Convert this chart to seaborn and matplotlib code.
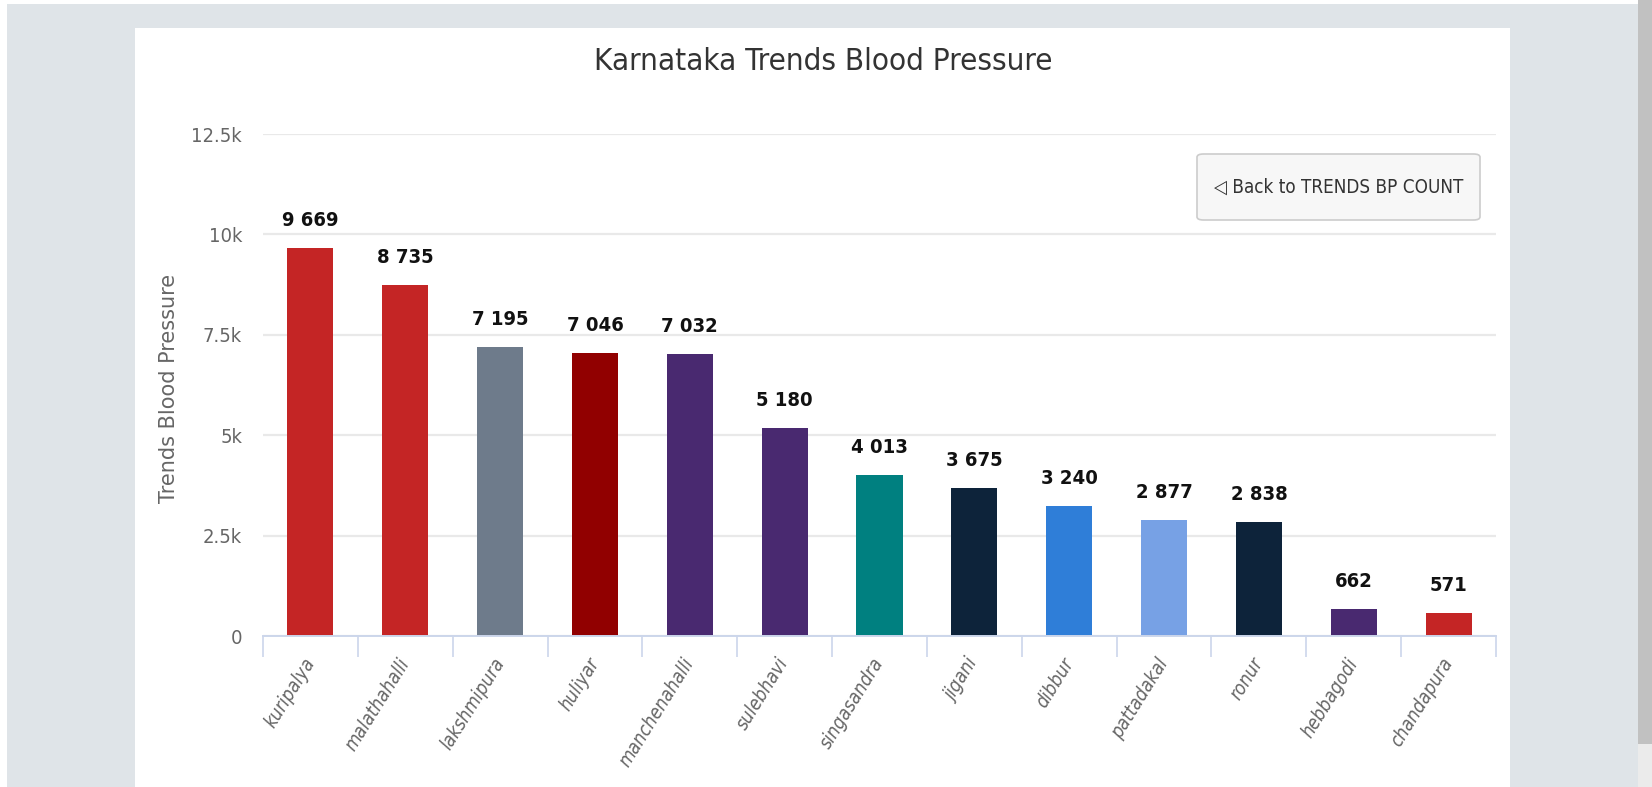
import numpy as np
import pandas as pd
import matplotlib
matplotlib.use("Agg")
import matplotlib.pyplot as plt
from matplotlib.patches import Rectangle, FancyBboxPatch
import seaborn as sns

categories = ["kuripalya", "malathahalli", "lakshmipura", "huliyar", "manchenahalli",
              "sulebhavi", "singasandra", "jigani", "dibbur", "pattadakal", "ronur",
              "hebbagodi", "chandapura"]
values = [9669, 8735, 7195, 7046, 7032, 5180, 4013, 3675, 3240, 2877, 2838, 662, 571]
bar_colors = ["#c42525", "#c42525", "#6e7b8b", "#910000", "#492970", "#492970", "#008080",
              "#0d233a", "#2f7ed8", "#77a1e5", "#0d233a", "#492970", "#c42525"]
y_ticks = [0, 2500, 5000, 7500, 10000, 12500]
y_ticklabels = ["0", "2.5k", "5k", "7.5k", "10k", "12.5k"]
title = "Karnataka Trends Blood Pressure"
y_label = "Trends Blood Pressure"
button_text = "\u25c1 Back to TRENDS BP COUNT"

sns.set_theme(style="white")
plt.rcParams["font.family"] = ["DejaVu Sans"]
plt.rcParams["font.stretch"] = "condensed"

W, H = 1652, 787
fig = plt.figure(figsize=(W / 100, H / 100), dpi=100)
fig.patch.set_facecolor("white")

def fr(x0, y0, x1, y1):
    return (x0 / W, 1 - y1 / H, (x1 - x0) / W, (y1 - y0) / H)

def add_rect(x0, y0, x1, y1, color):
    l, b, w, h = fr(x0, y0, x1, y1)
    fig.add_artist(Rectangle((l, b), w, h, transform=fig.transFigure,
                             facecolor=color, edgecolor="none", zorder=-10))

add_rect(7, 4, W, H, "#dfe4e8")
add_rect(135, 28, 1510, H, "white")
add_rect(1638, 0, W, 744, "#c1c1c1")
add_rect(1638, 744, W, H, "#ebebeb")

l, b, w, h = fr(263, 134, 1496, 636)
ax = fig.add_axes([l, b, w, h])
ax.set_facecolor("none")

df = pd.DataFrame({"cat": categories, "val": values})
sns.barplot(data=df, x="cat", y="val", hue="cat", palette=bar_colors, legend=False,
            width=0.485, saturation=1, ax=ax, edgecolor="none")

ax.set_ylim(0, 12500)
ax.set_xlim(-0.5, len(categories) - 0.5)
ax.set_yticks(y_ticks)
ax.set_yticklabels(y_ticklabels, fontstretch="condensed")
ax.yaxis.grid(True, color="#e9e9e9", linewidth=1.6)
ax.set_axisbelow(True)
for s in ["left", "right", "top"]:
    ax.spines[s].set_visible(False)
ax.spines["bottom"].set_color("#ccd6eb")
ax.spines["bottom"].set_linewidth(1.4)

ax.tick_params(axis="y", length=0, pad=15, labelsize=14.5, labelcolor="#666666")
ax.tick_params(axis="x", which="major", length=0, pad=17)
ax.set_xticks(np.arange(-0.5, len(categories), 1), minor=True)
ax.tick_params(axis="x", which="minor", length=15, width=1.2, color="#ccd6eb", bottom=True)
ax.set_xticks(range(len(categories)))
ax.set_xticklabels(categories, rotation=58, ha="right", va="center",
                   rotation_mode="anchor", fontsize=13.5, color="#666666", style="italic",
                   fontstretch="condensed")

ax.set_xlabel("")
ax.set_ylabel("")
fig.text(169 / W, 1 - 388 / H, y_label, rotation=90, ha="center", va="center",
         fontsize=15, color="#666666", family=["DejaVu Sans"], fontstretch="normal")

for i, v in enumerate(values):
    ax.annotate(f"{v:,}".replace(",", " "), (i, v), xytext=(0, 13),
                textcoords="offset points", ha="center", va="bottom",
                fontsize=14.5, fontweight="bold", color="#111111", fontstretch="condensed")

fig.text(823 / W, 1 - 61 / H, title, ha="center", va="center",
         fontsize=22.5, color="#333333", fontstretch="condensed")

bl, bb, bw, bh = fr(1197, 154, 1480, 220)
fig.add_artist(FancyBboxPatch((bl, bb), bw, bh, boxstyle="round,pad=0,rounding_size=0.004",
                              transform=fig.transFigure, facecolor="#f7f7f7",
                              edgecolor="#cccccc", linewidth=1.2))
fig.text((1197 + 1480) / 2 / W, 1 - 187 / H, button_text, ha="center", va="center",
         fontsize=13.5, color="#333333", fontstretch="condensed")

fig.savefig("out.png", dpi=100, facecolor=fig.get_facecolor())
